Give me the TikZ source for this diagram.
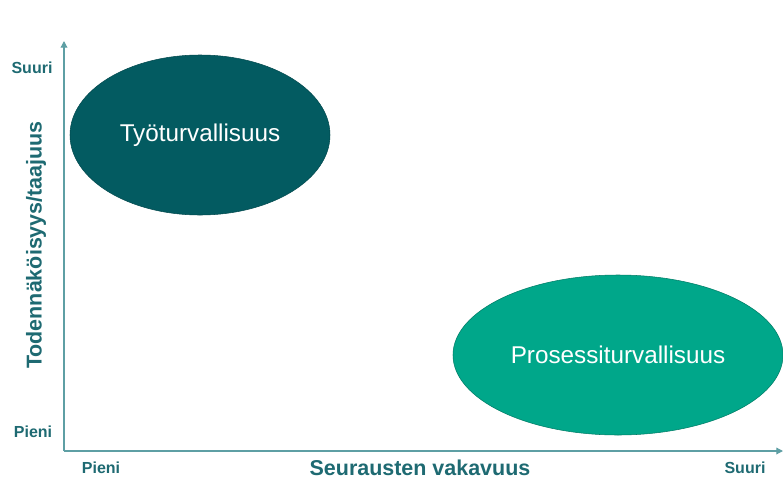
\documentclass[tikz,border=0pt]{standalone}
\usepackage{fontspec}
\setmainfont{Liberation Sans}
\usetikzlibrary{shapes.geometric,arrows.meta}
\definecolor{darkteal}{HTML}{035B61}
\definecolor{greenteal}{HTML}{00A78A}
\definecolor{axiscol}{HTML}{5E9FA4}
\definecolor{labcol}{HTML}{1E6A72}
\tikzset{
  blob/.style={ellipse, inner sep=0pt, text=white, font=\fontsize{18.2}{21}\selectfont},
  axislab/.style={text=labcol, font=\bfseries\fontsize{12}{14}\selectfont},
  axistitle/.style={text=labcol, font=\bfseries\fontsize{16.1}{19}\selectfont},
  axisline/.style={draw=axiscol, line width=0.9pt}
}
\begin{document}
\begin{tikzpicture}[x=0.75pt,y=-0.75pt]
\useasboundingbox[fill=white] (0,0) rectangle (783,479);
% axes
\coordinate (o) at (64,451);
\coordinate (ytip) at (64,41);
\coordinate (xtip) at (783,451);
\draw[axisline,-{Triangle[length=5pt,width=5pt]}] (o) -- (ytip);
\draw[axisline,-{Triangle[length=5pt,width=5pt]}] (o) -- (xtip);
% ellipses
\node[blob, fill=darkteal, draw=darkteal!80!black, minimum width=195pt, minimum height=120pt] (tyo) at (200,135) {Työturvallisuus};
\node[blob, fill=greenteal, draw=greenteal!75!black, minimum width=247.5pt, minimum height=120pt] (pro) at (618,355) {Prosessiturvallisuus};
% labels
\node[axislab] (ysuuri) at (32,68) {Suuri};
\node[axislab] (ypieni) at (33,432) {Pieni};
\node[axislab] (xpieni) at (101,468) {Pieni};
\node[axislab] (xsuuri) at (745,468) {Suuri};
\node[axistitle] (xtitle) at (420,468) {Seurausten vakavuus};
\node[axistitle, rotate=90] (ytitle) at (36,245) {Todennäköisyys/taajuus};
\end{tikzpicture}
\end{document}
